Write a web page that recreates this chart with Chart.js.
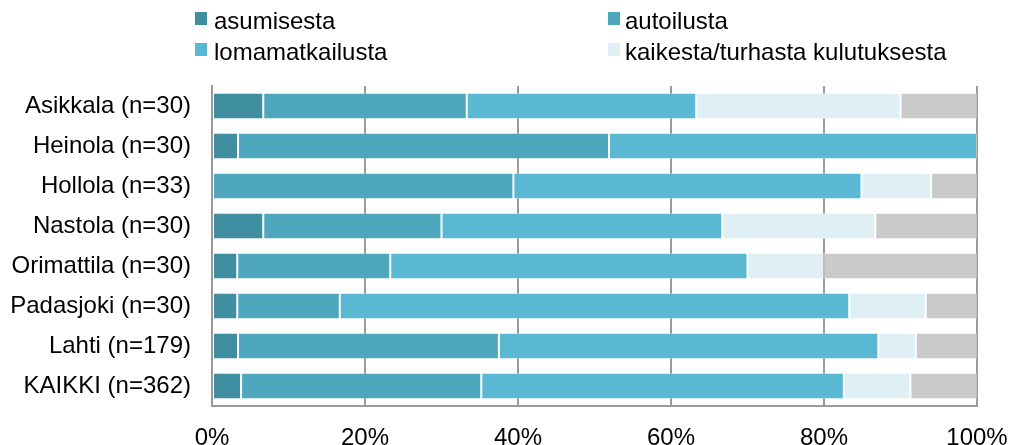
<!DOCTYPE html>
<html>
<head>
<meta charset="utf-8">
<script src="https://cdn.jsdelivr.net/npm/chart.js@4"></script>
<style>
html, body { margin: 0; padding: 0; background: #fff; overflow: hidden; }
#wrap { position: relative; width: 1009px; height: 445px; }
</style>
</head>
<body>
<div id="wrap"><canvas id="chart"></canvas></div>
<script>
const categories = ['Asikkala (n=30)', 'Heinola (n=30)', 'Hollola (n=33)', 'Nastola (n=30)',
    'Orimattila (n=30)', 'Padasjoki (n=30)', 'Lahti (n=179)', 'KAIKKI (n=362)'];
const seriesNames = ['asumisesta', 'autoilusta', 'lomamatkailusta', 'kaikesta/turhasta kulutuksesta', ''];
const asumisesta = [6.7, 3.4, 0, 6.7, 3.3, 3.3, 3.4, 3.8];
const autoilusta = [26.6, 48.5, 39.4, 23.3, 20.0, 13.4, 34.1, 31.4];
const lomamatkailusta = [30.0, 48.1, 45.5, 36.7, 46.7, 66.6, 49.6, 47.4];
const kaikesta = [26.7, 0, 9.1, 20.0, 10.0, 10.0, 4.9, 8.7];
const muut = [10.0, 0, 6.0, 13.3, 20.0, 6.7, 8.0, 8.7];
const xTicks = [0, 20, 40, 60, 80, 100];

const colors = ['#3f8fa0', '#4fa7be', '#5bb8d3', '#e0eff4', '#cacaca'];
const FONT = '"Liberation Sans", Arial, sans-serif';

// legend in two columns like the original
const legendGrid = {
    id: 'legendGrid',
    afterDraw(chart) {
        const ctx = chart.ctx;
        const cols = [[195, 214], [608, 625]];
        const rows = [29, 60];
        ctx.save();
        ctx.font = '24px ' + FONT;
        ctx.textBaseline = 'alphabetic';
        chart.data.datasets.forEach((ds, i) => {
            if (!ds.label) return;
            const c = cols[i % 2];
            const y = rows[Math.floor(i / 2)];
            ctx.fillStyle = ds.backgroundColor;
            ctx.fillRect(c[0], y - 17, 12, 13);
            ctx.fillStyle = '#000';
            ctx.fillText(ds.label, c[1], y);
        });
        ctx.restore();
    }
};

const data = [asumisesta, autoilusta, lomamatkailusta, kaikesta, muut];

document.addEventListener('DOMContentLoaded', function () {
    const ctx = document.getElementById('chart').getContext('2d');
    new Chart(ctx, {
        type: 'bar',
        data: {
            labels: categories,
            datasets: data.map((values, i) => ({
                label: seriesNames[i],
                data: values,
                backgroundColor: colors[i],
                borderColor: 'rgba(255,255,255,0.35)',
                borderWidth: 1,
                borderSkipped: false,
                barPercentage: 0.667,
                categoryPercentage: 1
            }))
        },
        options: {
            indexAxis: 'y',
            responsive: true,
            maintainAspectRatio: false,
            animation: false,
            layout: { padding: { top: 86, right: 32, left: 0, bottom: 0 } },
            plugins: {
                legend: { display: false },
                tooltip: { enabled: false }
            },
            scales: {
                x: {
                    stacked: true,
                    min: 0,
                    max: 100,
                    afterBuildTicks: scale => { scale.ticks = xTicks.map(v => ({ value: v })); },
                    afterFit: scale => {
                        scale.height = 39;
                        scale.paddingLeft = 0;
                        scale.paddingRight = 0;
                    },
                    grid: { color: '#9a9a9a', lineWidth: 2, drawTicks: false },
                    border: { color: '#9a9a9a', width: 2 },
                    ticks: {
                        padding: 18,
                        color: '#000',
                        font: { family: FONT, size: 24 },
                        callback: v => v + '%'
                    }
                },
                y: {
                    stacked: true,
                    afterFit: scale => { scale.width = 212; },
                    grid: { display: false, drawTicks: false },
                    border: { color: '#9a9a9a', width: 2 },
                    ticks: {
                        padding: 21,
                        color: '#000',
                        font: { family: FONT, size: 24 }
                    }
                }
            }
        },
        plugins: [legendGrid]
    });
});
</script>
</body>
</html>
